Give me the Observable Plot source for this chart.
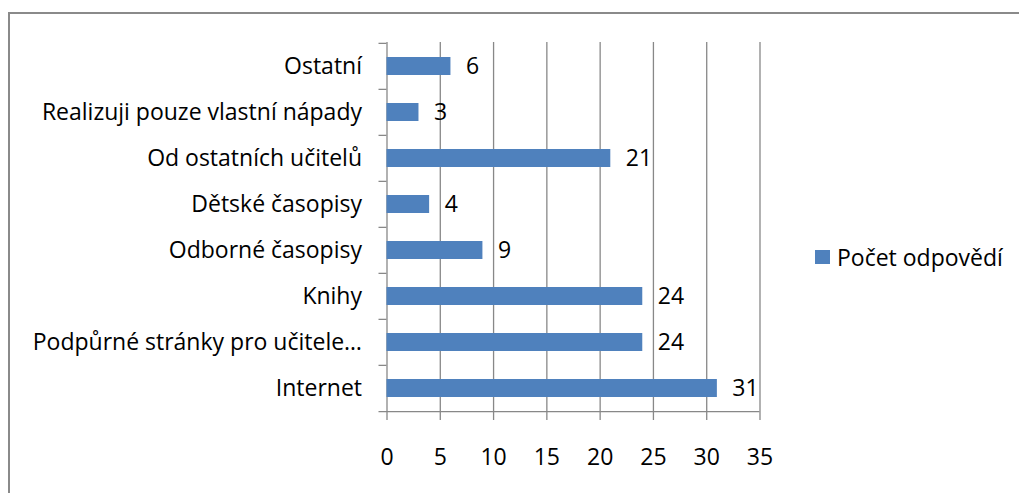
<!DOCTYPE html>
<html>
<head>
<meta charset="utf-8">
<script src="https://cdn.jsdelivr.net/npm/d3@7"></script>
<script src="https://cdn.jsdelivr.net/npm/@observablehq/plot@0.6"></script>
<style>
  html, body { margin: 0; padding: 0; background: #fff; }
  #wrap { position: relative; width: 1019px; height: 493px; overflow: hidden; font-family: "Open Sans", sans-serif; }
  #frame { position: absolute; left: 8px; top: 12px; width: 1100px; height: 600px; border-top: 2px solid #8a8a8a; border-left: 2px solid #8a8a8a; box-sizing: border-box; }
  #chart { position: absolute; left: 0; top: 0; }
  #legend { position: absolute; left: 815px; top: 241px; display: flex; align-items: center; font-size: 23px; color: #000; }
  #legend .sw { width: 15px; height: 14px; background: #4f81bd; margin-right: 7px; }
</style>
</head>
<body>
<div id="wrap">
  <div id="frame"></div>
  <div id="chart"></div>
  <div id="legend"><div class="sw"></div><span id="legtext"></span></div>
</div>
<script>
const categories = [
  "Ostatní",
  "Realizuji pouze vlastní nápady",
  "Od ostatních učitelů",
  "Dětské časopisy",
  "Odborné časopisy",
  "Knihy",
  "Podpůrné stránky pro učitele…",
  "Internet"
];
const values = [6, 3, 21, 4, 9, 24, 24, 31];
const xTicks = [0, 5, 10, 15, 20, 25, 30, 35];
const seriesName = "Počet odpovědí";

const data = categories.map((c, i) => ({category: c, value: values[i]}));
const gridColor = "#888888";
const fs = 23;
const half = 46.25 / 2;

const chart = Plot.plot({
  width: 1019,
  height: 493,
  marginLeft: 386.5,
  marginRight: 259.5,
  marginTop: 42,
  marginBottom: 81,
  style: {fontFamily: "'Open Sans', sans-serif", fontSize: fs + "px", color: "#000", background: "transparent"},
  x: {domain: [0, 35], ticks: xTicks, label: null},
  y: {domain: categories, paddingInner: 0.6, paddingOuter: 0.3, label: null},
  marks: [
    Plot.ruleX(xTicks, {stroke: gridColor, strokeWidth: 1.3}),
    Plot.ruleY(categories, {y: d => d, x1: -0.75, x2: 0, dy: -half, stroke: gridColor, strokeWidth: 1.3}),
    Plot.ruleY([categories[categories.length - 1]], {y: d => d, x1: -0.75, x2: 35, dy: half, stroke: gridColor, strokeWidth: 1.3}),
    Plot.axisX(xTicks, {tickSize: 8, tickPadding: 28, stroke: gridColor, strokeWidth: 1.3, fill: "#000", fontSize: fs, label: null}),
    Plot.axisY({tickSize: 0, tickPadding: 25, fill: "#000", fontSize: fs, label: null}),
    Plot.barX(data, {x: "value", y: "category", fill: "#4f81bd"}),
    Plot.text(data, {x: "value", y: "category", text: d => String(d.value), dx: 15, textAnchor: "start", fill: "#000", fontSize: fs})
  ]
});
document.getElementById("chart").appendChild(chart);
document.getElementById("legtext").textContent = seriesName;
</script>
</body>
</html>
